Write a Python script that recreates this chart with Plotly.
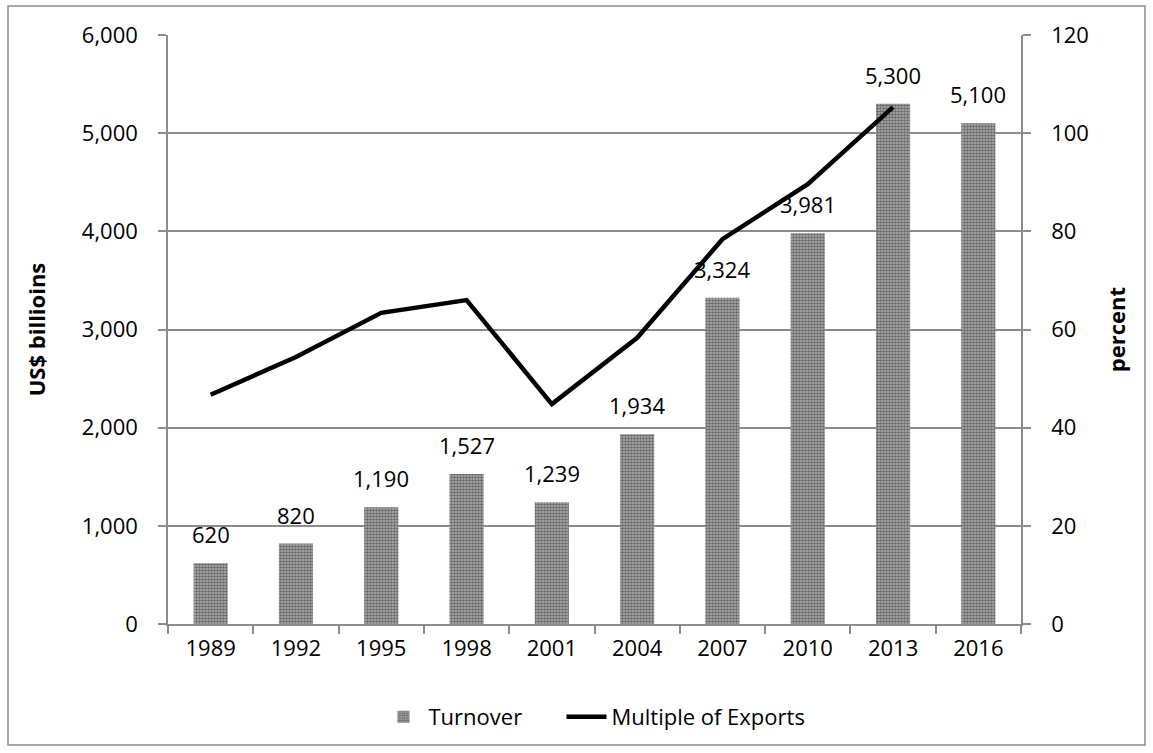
import plotly.graph_objects as go

years = ["1989", "1992", "1995", "1998", "2001", "2004", "2007", "2010", "2013", "2016"]
turnover = [620, 820, 1190, 1527, 1239, 1934, 3324, 3981, 5300, 5100]
multiple_of_exports = [46.7, 54.4, 63.4, 66.0, 44.8, 58.3, 78.4, 89.6, 105.3, None]

FONT = "Open Sans"
GRID = "#8c8c8c"

fig = go.Figure()
fig.add_trace(go.Bar(
    x=years, y=turnover, name="Turnover" + "\u00a0" * 6,
    width=0.4,
    marker=dict(color="#9a9a9a", line=dict(width=0),
                pattern=dict(shape=".", fgcolor="#1a1a1a", bgcolor="#b4b4b4",
                             size=3, solidity=0.6)),
))
fig.add_trace(go.Scatter(
    x=years, y=multiple_of_exports, name="Multiple of Exports", yaxis="y2",
    mode="lines", line=dict(color="black", width=4.5),
))

annotations = [
    dict(x=i, y=v, xref="x", yref="y", text=f"{v:,}", showarrow=False,
         yanchor="bottom", yshift=12, font=dict(family=FONT, size=22, color="black"))
    for i, v in enumerate(turnover)
]

fig.update_layout(
    width=1153, height=753,
    margin=dict(l=168, r=132, t=35, b=129),
    paper_bgcolor="white", plot_bgcolor="white",
    font=dict(family=FONT, size=22, color="black"),
    showlegend=True,
    legend=dict(orientation="h", x=0.5, xanchor="center", y=-0.158, yanchor="middle",
                font=dict(family=FONT, size=22), itemwidth=40, traceorder="normal"),
    bargap=0.6,
    annotations=annotations,
    xaxis=dict(type="category", range=[-0.5, len(years) - 0.5], showline=True,
               linecolor=GRID, linewidth=1.5,
               ticks="outside", tickson="boundaries", ticklen=8, tickcolor=GRID,
               tickwidth=1.5, showgrid=False, tickfont=dict(size=22), ticklabelstandoff=4),
    yaxis=dict(range=[0, 6000], dtick=1000, tickformat=",", showline=True,
               linecolor=GRID, linewidth=1.5, ticks="outside", ticklen=8,
               tickcolor=GRID, tickwidth=1.5, showgrid=True, gridcolor=GRID,
               gridwidth=1.5, zeroline=False, tickfont=dict(size=22), ticklabelstandoff=16,
               title=dict(text="<b>US$ billioins</b>", font=dict(size=22), standoff=30)),
    yaxis2=dict(range=[0, 120], dtick=20, overlaying="y", side="right", showline=True,
                linecolor=GRID, linewidth=1.5, ticks="outside", ticklen=8,
                tickcolor=GRID, tickwidth=1.5, showgrid=False, zeroline=False,
                tickfont=dict(size=22), ticklabelstandoff=16,
                title=dict(text="<b>percent</b>", font=dict(size=22), standoff=22)),
    shapes=[dict(type="rect", xref="paper", yref="paper",
                 x0=(8 - 168) / 853, x1=(1145 - 168) / 853,
                 y0=(624 - 745) / 589, y1=(624 - 6) / 589,
                 line=dict(color=GRID, width=1.5), layer="below")],
)

fig.write_html("out.html")
